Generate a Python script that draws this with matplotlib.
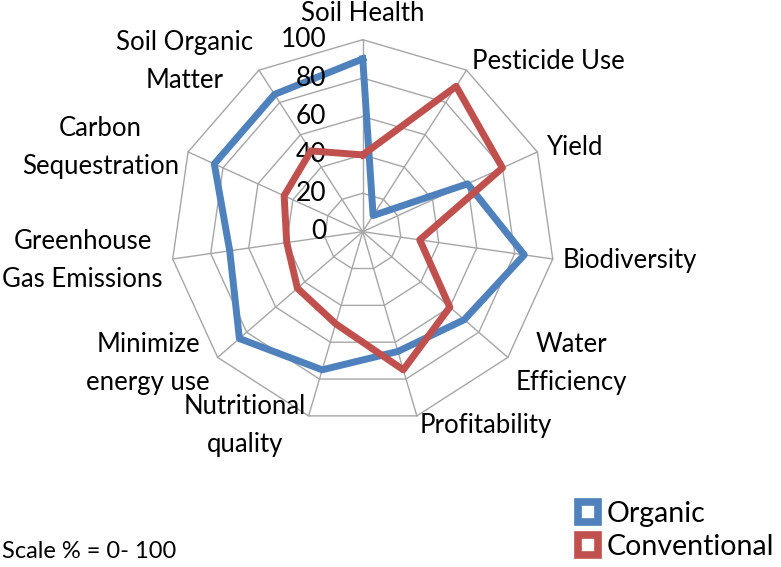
import numpy as np
import matplotlib
matplotlib.use("Agg")
import matplotlib.pyplot as plt
from matplotlib.lines import Line2D

plt.rcParams['font.family'] = ['Lato', 'DejaVu Sans']

categories = ['Soil Health', 'Pesticide Use', 'Yield', 'Biodiversity',
              'Water\nEfficiency', 'Profitability', 'Nutritional\nquality',
              'Minimize\nenergy use', 'Greenhouse\nGas Emissions',
              'Carbon\nSequestration', 'Soil Organic\nMatter']
organic = [90, 10, 60, 85, 70, 65, 75, 85, 70, 85, 85]
conventional = [40, 90, 80, 30, 60, 75, 50, 45, 40, 45, 50]
ticks = [0, 20, 40, 60, 80, 100]

blue = '#4F81BD'
red = '#C0504D'
grid = '#A6A6A6'

n = len(categories)
theta = np.arange(n) * 2 * np.pi / n
closed = np.append(theta, theta[0])

fig = plt.figure(figsize=(7.81, 5.67), dpi=100)
ax = fig.add_axes([0.2186, 0.2528, 0.4917, 0.6772], projection='polar')
ax.set_theta_zero_location('N')
ax.set_theta_direction(-1)
ax.set_ylim(0, 100)
ax.grid(False)
ax.set_xticks([])
ax.set_yticks([])
ax.spines['polar'].set_visible(False)
ax.patch.set_visible(False)

# polygon grid + spokes
for r in ticks[1:]:
    ax.plot(closed, [r] * (n + 1), color=grid, lw=1, clip_on=False, zorder=1)
for t in theta:
    ax.plot([t, t], [0, 100], color=grid, lw=1, clip_on=False, zorder=1)

ax.plot(closed, organic + organic[:1], color=blue, lw=5, zorder=3)
ax.plot(closed, conventional + conventional[:1], color=red, lw=5, zorder=4)

# radial tick labels
for r in ticks:
    ax.annotate(str(r), (0, r), xytext=(-26, 0), textcoords='offset points',
                ha='right', va='center', fontsize=19, annotation_clip=False)

# category labels
for t, lab in zip(theta, categories):
    s, c = np.sin(t), np.cos(t)
    if abs(s) < 0.05:
        ha, va = 'center', 'bottom'
        off = (0, 10)
    else:
        ha = 'left' if s > 0 else 'right'
        va = 'center'
        off = (7.2 * s, 7.2 * c)
    ax.annotate(lab, (t, 100), xytext=off, textcoords='offset points',
                ha=ha, va=va, multialignment='center', fontsize=18.5,
                linespacing=1.65, annotation_clip=False)

fig.text(0.003, 1 - 551 / 567, 'Scale % = 0- 100', fontsize=17, va='center')

handles = [Line2D([], [], ls='none', marker='s', markersize=14,
                  markerfacecolor='white', markeredgecolor=col,
                  markeredgewidth=5.5)
           for col in (blue, red)]
fig.legend(handles, ['Organic', 'Conventional'], loc='upper left',
           bbox_to_anchor=(574 / 781, 1 - 501 / 567), frameon=False,
           fontsize=20.5, handlelength=0.95, handletextpad=0.2,
           labelspacing=0.25, borderpad=0, borderaxespad=0)

fig.savefig('out.png', dpi=100)
